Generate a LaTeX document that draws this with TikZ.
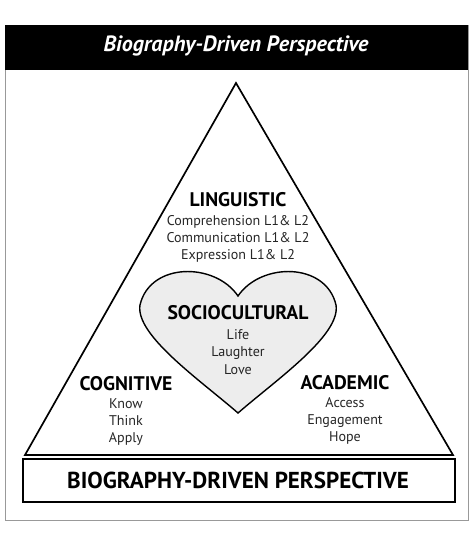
\documentclass[tikz,border=0pt]{standalone}
\usepackage{fontspec}
\setmainfont{PT Sans}
\usetikzlibrary{calc}
\usepackage{xcolor}
\definecolor{heartgray}{gray}{0.93}
\definecolor{framegray}{gray}{0.6}
\definecolor{inkgray}{gray}{0.15}

\begin{document}
\begin{tikzpicture}[x=0.025cm, y=-0.025cm,
  head/.style={font=\bfseries\fontsize{14}{16}\selectfont, text=black},
  sub/.style={font=\fontsize{10}{12.2}\selectfont, text=inkgray, align=center}]
\useasboundingbox (0,0) rectangle (474,540);
% outer frame and header
\draw[framegray, line width=0.6pt] (5,25) rectangle (468,520);
\fill[black] (5,25) rectangle (468,70);
\node[text=white, font=\bfseries\itshape\fontsize{15.7}{18}\selectfont] (title) at (236,46) {Biography-Driven Perspective};
% triangle
\coordinate (apex) at (236,83);
\coordinate (baseL) at (25,455);
\coordinate (baseR) at (453,455);
\draw[black, line width=1.2pt, line join=miter] (apex) -- (baseR) -- (baseL) -- cycle;
% heart
\draw[black, line width=1pt, fill=heartgray] (238,296)
  .. controls (215,262) and (150,262) .. (140,305)
  .. controls (135,335) and (200,380) .. (238,413)
  .. controls (276,380) and (341,335) .. (336,305)
  .. controls (326,262) and (261,262) .. (238,296) -- cycle;
% base box
\draw[black, line width=1.2pt] (23,459) rectangle (455,502);
\node[font=\bfseries\fontsize{16.4}{18}\selectfont] (base) at (238,480) {BIOGRAPHY-DRIVEN PERSPECTIVE};
% labels
\node[head] (ling) at (238,200) {LINGUISTIC};
\node[sub] (lingsub) at (238,239) {Comprehension L1\& L2\\Communication L1\& L2\\Expression L1\& L2};
\node[head] (socio) at (238,313) {SOCIOCULTURAL};
\node[sub] (sociosub) at (238,352) {Life\\Laughter\\Love};
\node[head] (cog) at (126,384) {COGNITIVE};
\node[sub] (cogsub) at (126,422) {Know\\Think\\Apply};
\node[head] (acad) at (345,383) {ACADEMIC};
\node[sub] (acadsub) at (345,421) {Access\\Engagement\\Hope};
\end{tikzpicture}
\end{document}
